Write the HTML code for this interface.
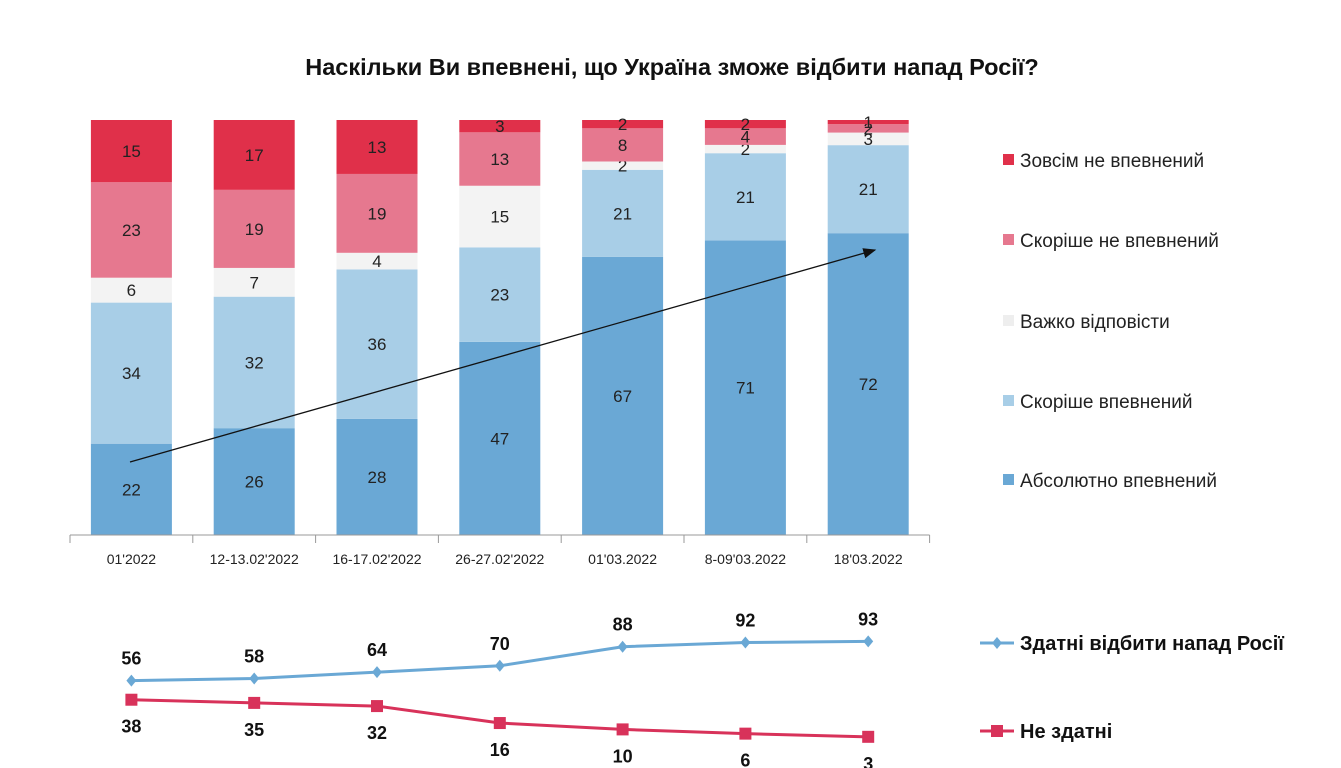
<!DOCTYPE html>
<html><head><meta charset="utf-8"><style>
html,body{margin:0;padding:0;background:#fff;}
svg{display:block;font-family:"Liberation Sans","DejaVu Sans",sans-serif;}
</style></head><body>
<svg id="chart" width="1341" height="768" viewBox="0 0 1341 768">
<defs><marker id="ah" markerWidth="10" markerHeight="8" refX="9" refY="4" orient="auto"><path d="M0,0 L10,4 L0,8 Z" fill="#111"/></marker></defs>
<text x="672" y="75" text-anchor="middle" font-size="23.5" font-weight="bold" fill="#111">Наскільки Ви впевнені, що Україна зможе відбити напад Росії?</text>
<g id="bars"></g>
<g id="xaxis"></g>
<g id="legend"></g>
<g id="lines"></g>
</svg>
<script>
const categories = ["01'2022","12-13.02'2022","16-17.02'2022","26-27.02'2022","01'03.2022","8-09'03.2022","18'03.2022"];
const seriesNames = ["Абсолютно впевнений","Скоріше впевнений","Важко відповісти","Скоріше не впевнений","Зовсім не впевнений"];
const absolutely = [22,26,28,47,67,71,72];
const rather = [34,32,36,23,21,21,21];
const hard = [6,7,4,15,2,2,3];
const ratherNot = [23,19,19,13,8,4,2];
const notAtAll = [15,17,13,3,2,2,1];
const able = [56,58,64,70,88,92,93];
const unable = [38,35,32,16,10,6,3];
const lineNames = ["Здатні відбити напад Росії","Не здатні"];

const colors = ["#6aa8d5","#a8cee7","#f3f3f3","#e6788f","#e0304a"];
const NS = "http://www.w3.org/2000/svg";
function mk(tag, attrs, parent){const e=document.createElementNS(NS,tag);for(const k in attrs)e.setAttribute(k,attrs[k]);parent.appendChild(e);return e;}
const x0=70, pitch=122.8, barW=81, topY=120, bottomY=535;
function xc(i){return x0+pitch*(i+0.5);}
const series=[absolutely,rather,hard,ratherNot,notAtAll];
const gB=document.getElementById('bars');
categories.forEach((c,i)=>{
  let sum=0; series.forEach(s=>sum+=s[i]);
  const h=bottomY-topY; let y=bottomY;
  series.forEach((s,k)=>{
    const bh=s[i]/sum*h; y-=bh;
    const r=mk('rect',{x:xc(i)-barW/2,y:y,width:barW,height:bh,fill:colors[k]},gB);
    
    
    const t=mk('text',{x:xc(i),y:y+bh/2+6,'text-anchor':'middle','font-size':17,fill:'#222'},gB);
    t.textContent=s[i];
    
    
  });
});
const ar=mk('line',{x1:130,y1:462,x2:875,y2:250,stroke:'#111','stroke-width':1.3,'marker-end':'url(#ah)'},gB);


const gX=document.getElementById('xaxis');
const ax=mk('line',{x1:x0,y1:bottomY,x2:x0+pitch*7,y2:bottomY,stroke:'#999','stroke-width':1},gX);


for(let i=0;i<=7;i++){const tk=mk('line',{x1:x0+pitch*i,y1:bottomY,x2:x0+pitch*i,y2:bottomY+8,stroke:'#999'},gX);

}
categories.forEach((c,i)=>{const t=mk('text',{x:xc(i),y:564,'text-anchor':'middle','font-size':14,fill:'#222'},gX);t.textContent=c;

});
const gL=document.getElementById('legend');
const ly=[481,402,322,241,161];
seriesNames.forEach((n,k)=>{
  const r=mk('rect',{x:1003,y:ly[k]-7,width:11,height:11,fill:k==2?'#eeeeee':colors[k]},gL);
  
  
  const t=mk('text',{x:1020,y:ly[k]+6,'font-size':19,fill:'#222'},gL);t.textContent=n;
  
  
});
const gLn=document.getElementById('lines');
function yl(v){return 740-1.06*v;}
function drawLine(data,color,marker,labelOff,name){
  const pl=mk('polyline',{points:data.map((v,i)=>xc(i)+','+yl(v)).join(' '),fill:'none',stroke:color,'stroke-width':3},gLn);
  
  
  data.forEach((v,i)=>{
    const x=xc(i),y=yl(v);let m;
    if(marker==='d') m=mk('path',{d:`M${x},${y-6}L${x+5},${y}L${x},${y+6}L${x-5},${y}Z`,fill:color},gLn);
    else m=mk('rect',{x:x-6,y:y-6,width:12,height:12,fill:color},gLn);
    
    
    const t=mk('text',{x:x,y:y+labelOff,'text-anchor':'middle','font-size':18,'font-weight':'bold',fill:'#111'},gLn);t.textContent=v;
    
    
  });
}
drawLine(able,'#6aa8d5','d',-16,'able');
drawLine(unable,'#d8325a','s',33,'unable');
[[643,'#6aa8d5','d',lineNames[0]],[731,'#d8325a','s',lineNames[1]]].forEach(([y,c,m,n])=>{
  const l=mk('line',{x1:980,y1:y,x2:1014,y2:y,stroke:c,'stroke-width':3},gLn);
  
  
  const mm = m==='d'?mk('path',{d:`M997,${y-6}L1002,${y}L997,${y+6}L992,${y}Z`,fill:c},gLn):mk('rect',{x:991,y:y-6,width:12,height:12,fill:c},gLn);
  
  
  const t=mk('text',{x:1020,y:y+7,'font-size':20,'font-weight':'bold',fill:'#111'},gLn);t.textContent=n;
  
  
});
</script>
</body></html>
